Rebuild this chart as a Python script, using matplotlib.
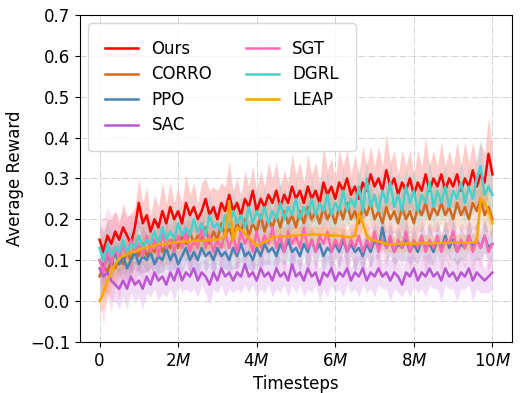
import matplotlib
matplotlib.use("Agg")
import matplotlib.pyplot as plt
import numpy as np

plt.rcParams['font.size'] = 12

# timesteps in millions, one sample every 0.1M
steps = np.round(np.arange(0, 10.05, 0.1), 1)

ours = [0.15, 0.12, 0.16, 0.14, 0.17, 0.15, 0.18, 0.16, 0.14, 0.18,
        0.24, 0.19, 0.21, 0.17, 0.20, 0.18, 0.22, 0.19, 0.23, 0.20,
        0.22, 0.19, 0.24, 0.21, 0.23, 0.20, 0.22, 0.25, 0.21, 0.23,
        0.20, 0.24, 0.22, 0.26, 0.22, 0.24, 0.21, 0.25, 0.23, 0.27,
        0.22, 0.25, 0.23, 0.26, 0.24, 0.27, 0.23, 0.26, 0.24, 0.28,
        0.25, 0.27, 0.24, 0.28, 0.25, 0.27, 0.24, 0.29, 0.26, 0.28,
        0.25, 0.29, 0.27, 0.30, 0.26, 0.28, 0.25, 0.29, 0.27, 0.31,
        0.28, 0.30, 0.27, 0.32, 0.28, 0.30, 0.26, 0.29, 0.27, 0.30,
        0.26, 0.29, 0.27, 0.31, 0.27, 0.30, 0.28, 0.31, 0.27, 0.30,
        0.28, 0.31, 0.27, 0.30, 0.28, 0.32, 0.28, 0.31, 0.29, 0.36, 0.31]
ours_std = [0.04, 0.05, 0.04, 0.06, 0.05, 0.04, 0.06, 0.05, 0.07, 0.05,
            0.06, 0.05, 0.07, 0.04, 0.06, 0.05, 0.07, 0.05, 0.06, 0.04,
            0.06, 0.05, 0.07, 0.05, 0.06, 0.04, 0.07, 0.05, 0.06, 0.05,
            0.07, 0.05, 0.06, 0.08, 0.05, 0.06, 0.05, 0.07, 0.05, 0.06,
            0.05, 0.07, 0.05, 0.08, 0.06, 0.07, 0.05, 0.06, 0.05, 0.08,
            0.06, 0.07, 0.05, 0.08, 0.06, 0.07, 0.05, 0.09, 0.06, 0.07,
            0.05, 0.08, 0.06, 0.07, 0.05, 0.08, 0.06, 0.09, 0.06, 0.07,
            0.05, 0.08, 0.06, 0.09, 0.06, 0.07, 0.05, 0.08, 0.06, 0.07,
            0.05, 0.08, 0.06, 0.09, 0.06, 0.07, 0.05, 0.08, 0.06, 0.07,
            0.05, 0.08, 0.06, 0.09, 0.06, 0.07, 0.06, 0.08, 0.07, 0.09, 0.06]

corro = [0.06, 0.09, 0.07, 0.10, 0.08, 0.11, 0.09, 0.12, 0.10, 0.13,
         0.11, 0.14, 0.11, 0.13, 0.12, 0.15, 0.12, 0.14, 0.13, 0.16,
         0.13, 0.16, 0.14, 0.17, 0.14, 0.16, 0.15, 0.18, 0.14, 0.17,
         0.15, 0.19, 0.16, 0.18, 0.15, 0.19, 0.17, 0.20, 0.16, 0.19,
         0.17, 0.21, 0.17, 0.20, 0.18, 0.21, 0.18, 0.22, 0.19, 0.21,
         0.18, 0.22, 0.19, 0.23, 0.20, 0.22, 0.19, 0.23, 0.20, 0.22,
         0.19, 0.23, 0.20, 0.24, 0.20, 0.22, 0.19, 0.23, 0.21, 0.24,
         0.20, 0.22, 0.19, 0.23, 0.20, 0.22, 0.19, 0.23, 0.20, 0.22,
         0.19, 0.23, 0.21, 0.24, 0.20, 0.23, 0.21, 0.24, 0.21, 0.23,
         0.20, 0.24, 0.21, 0.23, 0.20, 0.24, 0.22, 0.25, 0.21, 0.23, 0.20]
corro_std = [0.05, 0.06, 0.05, 0.04, 0.05, 0.04, 0.05, 0.04, 0.05, 0.04,
             0.04, 0.05, 0.04, 0.05, 0.03, 0.05, 0.04, 0.05, 0.04, 0.05,
             0.04, 0.05, 0.04, 0.06, 0.04, 0.05, 0.04, 0.05, 0.04, 0.06,
             0.04, 0.05, 0.04, 0.05, 0.04, 0.06, 0.04, 0.05, 0.04, 0.05,
             0.04, 0.06, 0.04, 0.05, 0.04, 0.05, 0.04, 0.06, 0.04, 0.05,
             0.04, 0.05, 0.04, 0.06, 0.04, 0.05, 0.04, 0.06, 0.05, 0.05,
             0.04, 0.06, 0.04, 0.05, 0.04, 0.06, 0.04, 0.05, 0.04, 0.06,
             0.04, 0.05, 0.04, 0.06, 0.04, 0.05, 0.04, 0.06, 0.05, 0.05,
             0.04, 0.06, 0.04, 0.05, 0.04, 0.06, 0.04, 0.05, 0.05, 0.06,
             0.04, 0.06, 0.04, 0.05, 0.04, 0.06, 0.05, 0.06, 0.04, 0.06, 0.05]

ppo = [0.10, 0.08, 0.11, 0.09, 0.12, 0.09, 0.11, 0.08, 0.10, 0.12,
       0.09, 0.11, 0.10, 0.12, 0.09, 0.11, 0.10, 0.13, 0.10, 0.12,
       0.09, 0.11, 0.13, 0.10, 0.12, 0.10, 0.13, 0.11, 0.12, 0.10,
       0.13, 0.11, 0.12, 0.10, 0.13, 0.11, 0.14, 0.11, 0.12, 0.10,
       0.13, 0.11, 0.14, 0.12, 0.13, 0.11, 0.14, 0.12, 0.15, 0.12,
       0.13, 0.11, 0.14, 0.12, 0.15, 0.12, 0.14, 0.11, 0.13, 0.12,
       0.14, 0.12, 0.15, 0.12, 0.14, 0.12, 0.13, 0.11, 0.14, 0.12,
       0.15, 0.13, 0.18, 0.13, 0.15, 0.12, 0.14, 0.13, 0.15, 0.12,
       0.14, 0.12, 0.15, 0.13, 0.14, 0.12, 0.15, 0.13, 0.16, 0.13,
       0.15, 0.12, 0.14, 0.13, 0.16, 0.13, 0.15, 0.13, 0.16, 0.13, 0.14]
ppo_std = [0.05, 0.04, 0.05, 0.04, 0.03, 0.04, 0.03, 0.04, 0.03, 0.04,
           0.03, 0.04, 0.03, 0.04, 0.03, 0.04, 0.03, 0.05, 0.03, 0.04,
           0.03, 0.04, 0.03, 0.04, 0.03, 0.05, 0.03, 0.04, 0.03, 0.04,
           0.04, 0.03, 0.04, 0.03, 0.05, 0.03, 0.04, 0.03, 0.04, 0.03,
           0.04, 0.03, 0.05, 0.03, 0.04, 0.03, 0.04, 0.03, 0.05, 0.04,
           0.03, 0.04, 0.03, 0.05, 0.03, 0.04, 0.03, 0.04, 0.03, 0.05,
           0.03, 0.04, 0.03, 0.04, 0.03, 0.05, 0.03, 0.04, 0.03, 0.04,
           0.04, 0.03, 0.05, 0.03, 0.04, 0.03, 0.04, 0.03, 0.05, 0.03,
           0.04, 0.03, 0.04, 0.03, 0.05, 0.03, 0.04, 0.03, 0.04, 0.03,
           0.05, 0.03, 0.04, 0.03, 0.04, 0.03, 0.05, 0.03, 0.04, 0.03, 0.04]

sac = [0.08, 0.06, 0.07, 0.05, 0.04, 0.03, 0.05, 0.03, 0.06, 0.04,
       0.05, 0.03, 0.06, 0.04, 0.07, 0.05, 0.06, 0.04, 0.07, 0.05,
       0.08, 0.05, 0.07, 0.06, 0.08, 0.05, 0.07, 0.06, 0.04, 0.07,
       0.05, 0.08, 0.06, 0.07, 0.05, 0.07, 0.06, 0.09, 0.06, 0.07,
       0.05, 0.08, 0.06, 0.07, 0.05, 0.08, 0.06, 0.07, 0.05, 0.09,
       0.06, 0.07, 0.05, 0.08, 0.06, 0.07, 0.04, 0.07, 0.06, 0.08,
       0.05, 0.07, 0.06, 0.08, 0.05, 0.07, 0.06, 0.08, 0.05, 0.07,
       0.06, 0.08, 0.06, 0.07, 0.05, 0.07, 0.06, 0.04, 0.07, 0.06,
       0.08, 0.05, 0.07, 0.06, 0.08, 0.06, 0.07, 0.05, 0.08, 0.06,
       0.07, 0.05, 0.07, 0.06, 0.08, 0.05, 0.07, 0.06, 0.05, 0.06, 0.07]
sac_std = [0.05, 0.06, 0.05, 0.05, 0.04, 0.05, 0.04, 0.05, 0.04, 0.04,
           0.04, 0.05, 0.04, 0.03, 0.04, 0.05, 0.04, 0.03, 0.04, 0.05,
           0.04, 0.03, 0.04, 0.04, 0.05, 0.04, 0.03, 0.04, 0.05, 0.04,
           0.03, 0.04, 0.05, 0.04, 0.03, 0.04, 0.04, 0.05, 0.04, 0.03,
           0.04, 0.05, 0.04, 0.03, 0.04, 0.05, 0.04, 0.03, 0.04, 0.05,
           0.04, 0.03, 0.04, 0.05, 0.04, 0.03, 0.04, 0.04, 0.05, 0.04,
           0.03, 0.04, 0.05, 0.04, 0.03, 0.04, 0.05, 0.04, 0.03, 0.04,
           0.05, 0.04, 0.03, 0.04, 0.05, 0.04, 0.04, 0.03, 0.04, 0.05,
           0.04, 0.03, 0.04, 0.05, 0.04, 0.03, 0.04, 0.05, 0.04, 0.03,
           0.04, 0.05, 0.04, 0.03, 0.04, 0.05, 0.04, 0.04, 0.03, 0.04, 0.04]

sgt = [0.10, 0.07, 0.12, 0.09, 0.13, 0.10, 0.14, 0.11, 0.15, 0.12,
       0.14, 0.11, 0.16, 0.12, 0.15, 0.11, 0.17, 0.13, 0.15, 0.12,
       0.16, 0.13, 0.17, 0.12, 0.15, 0.13, 0.18, 0.13, 0.16, 0.12,
       0.15, 0.13, 0.17, 0.13, 0.16, 0.12, 0.17, 0.14, 0.16, 0.12,
       0.17, 0.13, 0.16, 0.14, 0.18, 0.13, 0.16, 0.12, 0.17, 0.14,
       0.16, 0.13, 0.18, 0.13, 0.15, 0.12, 0.16, 0.14, 0.17, 0.12,
       0.15, 0.13, 0.16, 0.12, 0.15, 0.13, 0.16, 0.12, 0.15, 0.13,
       0.17, 0.12, 0.15, 0.13, 0.16, 0.12, 0.15, 0.13, 0.17, 0.12,
       0.15, 0.13, 0.16, 0.12, 0.15, 0.13, 0.16, 0.12, 0.15, 0.14,
       0.17, 0.12, 0.15, 0.13, 0.16, 0.12, 0.15, 0.13, 0.16, 0.12, 0.14]
sgt_std = [0.10, 0.13, 0.11, 0.12, 0.09, 0.10, 0.08, 0.09, 0.07, 0.08,
           0.06, 0.07, 0.06, 0.08, 0.05, 0.06, 0.05, 0.06, 0.04, 0.05,
           0.04, 0.05, 0.04, 0.06, 0.04, 0.05, 0.04, 0.05, 0.04, 0.06,
           0.04, 0.05, 0.04, 0.05, 0.04, 0.06, 0.04, 0.05, 0.04, 0.05,
           0.04, 0.06, 0.04, 0.05, 0.04, 0.05, 0.04, 0.06, 0.04, 0.05,
           0.04, 0.05, 0.04, 0.06, 0.04, 0.05, 0.04, 0.05, 0.04, 0.06,
           0.04, 0.05, 0.04, 0.05, 0.04, 0.06, 0.04, 0.05, 0.04, 0.05,
           0.04, 0.06, 0.04, 0.05, 0.04, 0.05, 0.04, 0.06, 0.04, 0.05,
           0.04, 0.05, 0.04, 0.06, 0.04, 0.05, 0.04, 0.05, 0.04, 0.06,
           0.04, 0.05, 0.04, 0.05, 0.04, 0.06, 0.04, 0.05, 0.04, 0.05, 0.04]

dgrl = [0.13, 0.10, 0.14, 0.11, 0.13, 0.12, 0.15, 0.12, 0.14, 0.13,
        0.16, 0.13, 0.15, 0.14, 0.17, 0.14, 0.18, 0.15, 0.17, 0.15,
        0.19, 0.16, 0.18, 0.16, 0.20, 0.17, 0.19, 0.16, 0.21, 0.18,
        0.19, 0.17, 0.21, 0.18, 0.22, 0.19, 0.21, 0.18, 0.23, 0.19,
        0.22, 0.20, 0.23, 0.19, 0.22, 0.20, 0.24, 0.20, 0.23, 0.21,
        0.25, 0.20, 0.23, 0.21, 0.25, 0.21, 0.24, 0.22, 0.26, 0.21,
        0.24, 0.22, 0.27, 0.22, 0.25, 0.23, 0.28, 0.22, 0.30, 0.23,
        0.26, 0.22, 0.27, 0.24, 0.29, 0.23, 0.26, 0.22, 0.28, 0.24,
        0.27, 0.22, 0.26, 0.24, 0.29, 0.23, 0.27, 0.24, 0.28, 0.23,
        0.27, 0.25, 0.29, 0.24, 0.28, 0.25, 0.30, 0.33, 0.26, 0.28, 0.26]
dgrl_std = [0.06, 0.05, 0.06, 0.05, 0.04, 0.05, 0.04, 0.05, 0.04, 0.05,
            0.04, 0.05, 0.04, 0.04, 0.05, 0.04, 0.05, 0.04, 0.05, 0.04,
            0.05, 0.04, 0.05, 0.04, 0.05, 0.04, 0.05, 0.04, 0.06, 0.04,
            0.05, 0.04, 0.05, 0.04, 0.06, 0.04, 0.05, 0.04, 0.05, 0.04,
            0.06, 0.04, 0.05, 0.04, 0.05, 0.04, 0.06, 0.04, 0.05, 0.04,
            0.05, 0.04, 0.06, 0.04, 0.05, 0.04, 0.05, 0.04, 0.06, 0.04,
            0.05, 0.04, 0.06, 0.04, 0.05, 0.04, 0.06, 0.05, 0.06, 0.04,
            0.05, 0.04, 0.06, 0.04, 0.05, 0.04, 0.06, 0.05, 0.05, 0.04,
            0.06, 0.04, 0.05, 0.04, 0.06, 0.05, 0.05, 0.04, 0.06, 0.04,
            0.05, 0.04, 0.06, 0.05, 0.05, 0.04, 0.06, 0.07, 0.05, 0.06, 0.05]

leap = [0.00, 0.02, 0.05, 0.07, 0.09, 0.105, 0.11, 0.115, 0.12, 0.12,
        0.125, 0.13, 0.13, 0.135, 0.135, 0.14, 0.14, 0.14, 0.142, 0.143,
        0.145, 0.145, 0.146, 0.145, 0.147, 0.148, 0.147, 0.148, 0.15, 0.15,
        0.151, 0.152, 0.16, 0.245, 0.15, 0.18, 0.175, 0.165, 0.155, 0.145,
        0.135, 0.14, 0.145, 0.15, 0.155, 0.157, 0.158, 0.158, 0.159, 0.16,
        0.16, 0.161, 0.162, 0.162, 0.163, 0.163, 0.162, 0.162, 0.161, 0.16,
        0.16, 0.16, 0.158, 0.157, 0.156, 0.16, 0.215, 0.19, 0.16, 0.15,
        0.148, 0.146, 0.143, 0.14, 0.139, 0.139, 0.14, 0.14, 0.141, 0.14,
        0.14, 0.141, 0.142, 0.142, 0.141, 0.141, 0.142, 0.142, 0.142, 0.143,
        0.143, 0.143, 0.143, 0.143, 0.144, 0.144, 0.145, 0.25, 0.24, 0.22, 0.19]
leap_std = [0.03, 0.04, 0.04, 0.04, 0.03, 0.03, 0.03, 0.03, 0.03, 0.03,
            0.02, 0.03, 0.02, 0.03, 0.02, 0.02, 0.03, 0.02, 0.02, 0.02,
            0.02, 0.02, 0.03, 0.02, 0.02, 0.02, 0.02, 0.03, 0.02, 0.02,
            0.02, 0.02, 0.03, 0.04, 0.03, 0.03, 0.02, 0.02, 0.02, 0.02,
            0.02, 0.02, 0.02, 0.02, 0.02, 0.02, 0.02, 0.02, 0.02, 0.02,
            0.02, 0.02, 0.02, 0.02, 0.02, 0.02, 0.02, 0.02, 0.02, 0.02,
            0.02, 0.02, 0.02, 0.02, 0.02, 0.02, 0.03, 0.03, 0.02, 0.02,
            0.02, 0.02, 0.02, 0.02, 0.02, 0.02, 0.02, 0.02, 0.02, 0.02,
            0.02, 0.02, 0.02, 0.02, 0.02, 0.02, 0.02, 0.02, 0.02, 0.02,
            0.02, 0.02, 0.02, 0.02, 0.02, 0.02, 0.02, 0.03, 0.03, 0.03, 0.03]

names = ['Ours', 'CORRO', 'PPO', 'SAC', 'SGT', 'DGRL', 'LEAP']
means = [ours, corro, ppo, sac, sgt, dgrl, leap]
stds = [ours_std, corro_std, ppo_std, sac_std, sgt_std, dgrl_std, leap_std]
colors = ['red', 'chocolate', 'steelblue', 'mediumorchid', 'hotpink',
          'mediumturquoise', 'orange']

fig, ax = plt.subplots(figsize=(5.22, 3.93), dpi=100)
fig.subplots_adjust(left=0.153, right=0.981, top=0.962, bottom=0.130)

for name, m, s, c in zip(names, means, stds, colors):
    m = np.array(m)
    s = np.array(s)
    ax.plot(steps, m, color=c, lw=1.8, label=name)
    ax.fill_between(steps, m - s, m + s, color=c, alpha=0.2, lw=0)

ax.set_xlim(-0.5, 10.5)
ax.set_ylim(-0.1, 0.7)
ax.set_xticks([0, 2, 4, 6, 8, 10])
ax.set_xticklabels(['0', r'2$M$', r'4$M$', r'6$M$', r'8$M$', r'10$M$'])
ax.set_yticks(np.arange(-0.1, 0.71, 0.1))
ax.set_xlabel('Timesteps')
ax.set_ylabel('Average Reward')
ax.grid(True, linestyle='-.', color='#d0d0d0', lw=0.7)
ax.legend(loc='upper left', ncol=2, borderpad=1.0, labelspacing=0.45)

fig.savefig('out.png', dpi=100)
